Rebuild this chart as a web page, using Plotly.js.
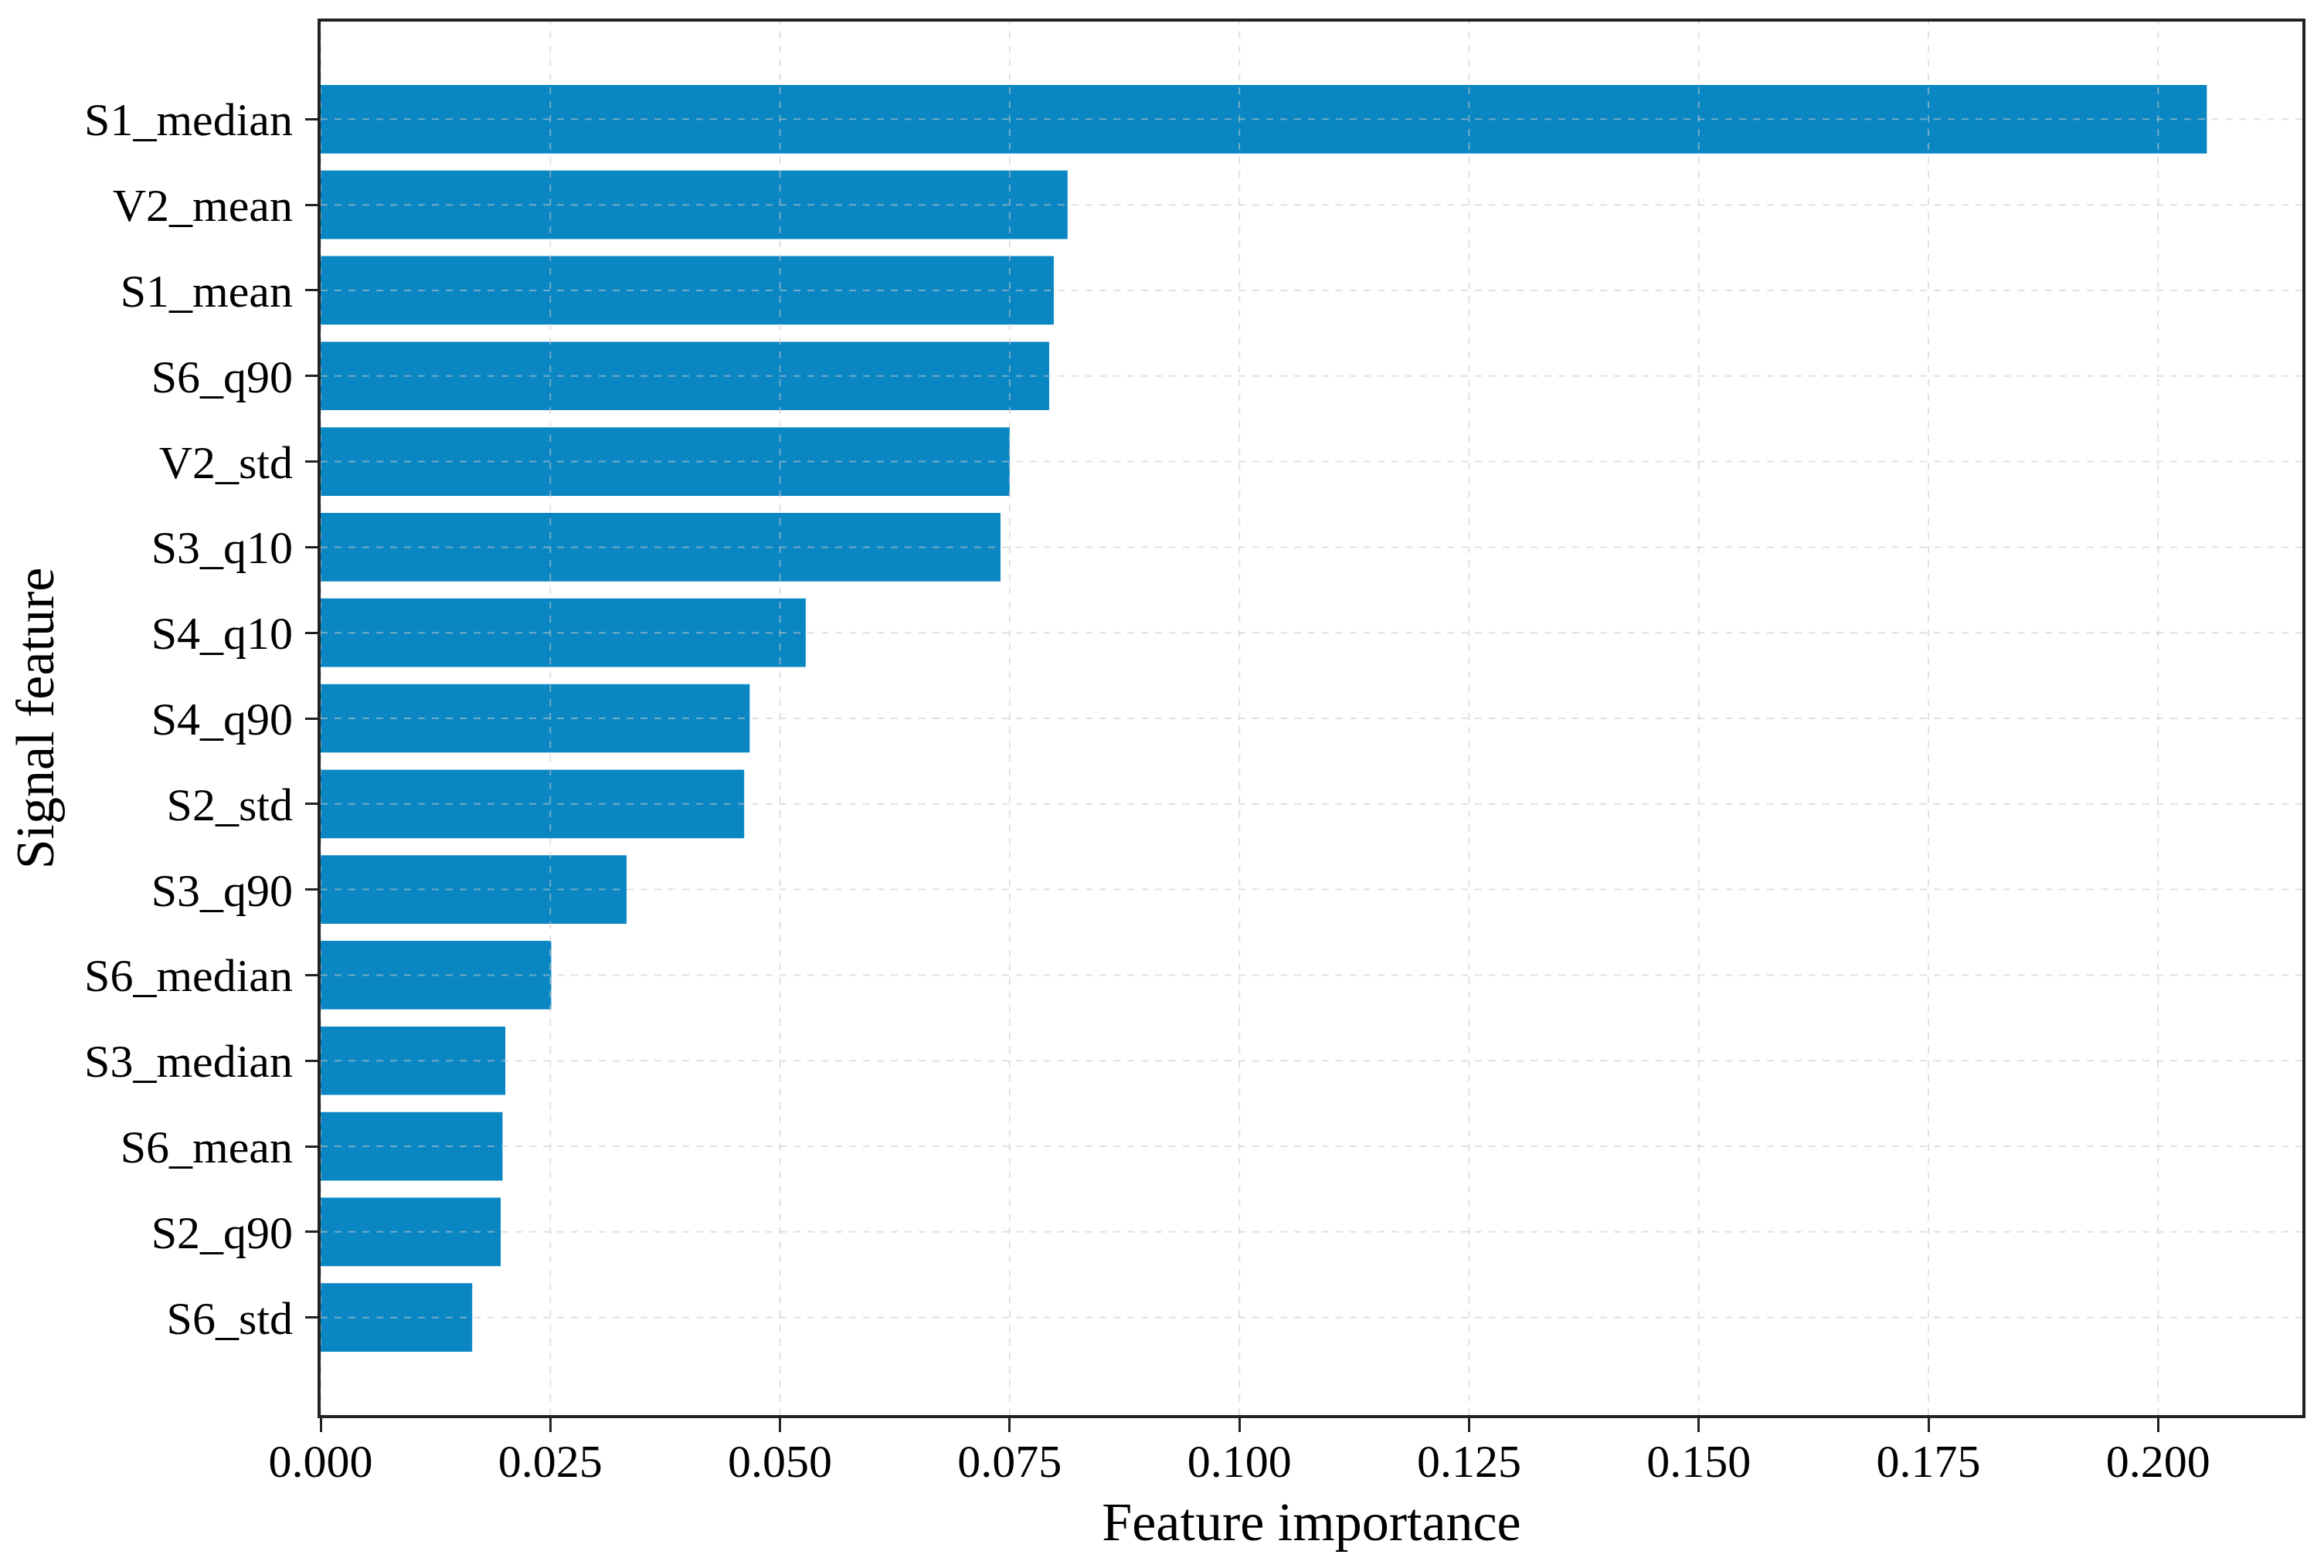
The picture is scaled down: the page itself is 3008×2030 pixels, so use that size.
<!DOCTYPE html>
<html>
<head>
<meta charset="utf-8">
<script src="https://cdn.plot.ly/plotly-3.0.1.min.js"></script>
<style>html,body{margin:0;padding:0;background:#fff;}#chart{width:3008px;height:2030px;}</style>
</head>
<body>
<div id="chart"></div>
<script>
// Data (top to bottom)
const features = ["S1_median","V2_mean","S1_mean","S6_q90","V2_std","S3_q10","S4_q10","S4_q90","S2_std","S3_q90","S6_median","S3_median","S6_mean","S2_q90","S6_std"];
const importance = [0.2053,0.0813,0.0798,0.0793,0.0750,0.0740,0.0528,0.0467,0.0461,0.0333,0.0251,0.0201,0.0198,0.0196,0.0165];
const xTicks = [0.000,0.025,0.050,0.075,0.100,0.125,0.150,0.175,0.200];
const xTickLabels = ["0.000","0.025","0.050","0.075","0.100","0.125","0.150","0.175","0.200"];

const barColor = "#0a87c3";
const gridColor = "rgba(200,200,200,0.55)";
const fontFam = "Liberation Serif, Times New Roman, serif";

const trace = {
  type: "bar",
  orientation: "h",
  x: importance,
  y: features,
  width: 0.8,
  marker: {color: barColor, line: {width: 0}},
  hoverinfo: "x+y"
};

// dashed grid lines drawn above the bars, built from tick arrays
const shapes = [];
xTicks.forEach(v => shapes.push({type:"line", layer:"above", xref:"x", yref:"paper", x0:v, x1:v, y0:0, y1:1,
  line:{color:gridColor, width:2, dash:"dash"}}));
features.forEach(f => shapes.push({type:"line", layer:"above", xref:"paper", yref:"y", x0:0, x1:1, y0:f, y1:f,
  line:{color:gridColor, width:2, dash:"dash"}}));

const layout = {
  width: 3008, height: 2030,
  paper_bgcolor: "#ffffff", plot_bgcolor: "#ffffff",
  margin: {l: 415, r: 28, t: 28, b: 198},
  showlegend: false,
  font: {family: fontFam, color: "#000", size: 60},
  bargap: 0.2,
  xaxis: {
    range: [0, 0.2157],
    tickmode: "array", tickvals: xTicks, ticktext: xTickLabels,
    ticks: "outside", ticklen: 18, tickwidth: 3, tickcolor: "#222",
    ticklabelstandoff: -14,
    showgrid: false, zeroline: false,
    showline: true, linecolor: "#222", linewidth: 4, mirror: true,
    tickfont: {family: fontFam, size: 60, color: "#000"},
    title: {text: "Feature importance", font: {family: fontFam, size: 70, color: "#000"}, standoff: 22}
  },
  yaxis: {
    type: "category",
    categoryorder: "array", categoryarray: features,
    range: [15.14, -1.14],
    ticks: "outside", ticklen: 16, tickwidth: 3, tickcolor: "#222",
    ticklabelstandoff: 4,
    showgrid: false, zeroline: false,
    showline: true, linecolor: "#222", linewidth: 4, mirror: true,
    tickfont: {family: fontFam, size: 60, color: "#000"},
    title: {text: "Signal feature", font: {family: fontFam, size: 70, color: "#000"}, standoff: 18}
  },
  shapes: shapes
};

Plotly.newPlot("chart", [trace], layout, {displayModeBar: false, staticPlot: true});
</script>
</body>
</html>
